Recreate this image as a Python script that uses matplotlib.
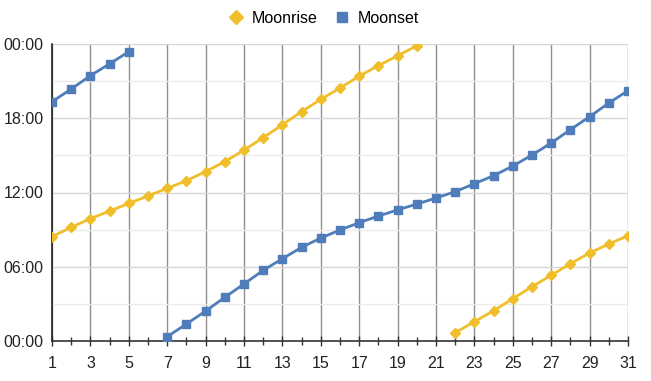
import matplotlib
matplotlib.use("Agg")
import matplotlib.pyplot as plt
from matplotlib.ticker import FixedLocator

plt.rcParams['font.family'] = ['Liberation Sans', 'DejaVu Sans']

rise_days = list(range(1, 21)) + list(range(22, 32))
rise_hours = [8.43, 9.19, 9.89, 10.5, 11.12, 11.72, 12.34, 12.95, 13.69, 14.49,
              15.43, 16.43, 17.48, 18.53, 19.53, 20.44, 21.41, 22.25, 23.05, 23.86,
              0.67, 1.56, 2.45, 3.42, 4.39, 5.31, 6.25, 7.11, 7.84, 8.51]

set_days_a = [1, 2, 3, 4, 5]
set_hours_a = [19.34, 20.36, 21.44, 22.4, 23.38]
set_days_b = list(range(7, 32))
set_hours_b = [0.35, 1.37, 2.42, 3.53, 4.61, 5.71, 6.65, 7.57, 8.32, 8.97,
               9.56, 10.1, 10.59, 11.07, 11.55, 12.07, 12.71, 13.36, 14.14, 15.03,
               16.0, 17.08, 18.13, 19.23, 20.23]

y_ticks = [0, 6, 12, 18, 24]
y_labels = ["00:00", "06:00", "12:00", "18:00", "00:00"]
x_ticks = list(range(1, 32, 2))

gold = "#F1BE2B"
blue = "#4E7DBA"

fig = plt.figure(figsize=(6.51, 3.81), dpi=100)
ax = fig.add_axes([52/651, 1-341/381, 576/651, 297/381])

r1d, r1h = rise_days[:20], rise_hours[:20]
r2d, r2h = rise_days[20:], rise_hours[20:]
ax.plot(r1d, r1h, color=gold, marker='D', markersize=5.5, lw=2, zorder=3, label='Moonrise')
ax.plot(r2d, r2h, color=gold, marker='D', markersize=5.5, lw=2, zorder=3)
ax.plot(set_days_a, set_hours_a, color=blue, marker='s', markersize=5.5, lw=2, zorder=3, label='Moonset')
ax.plot(set_days_b, set_hours_b, color=blue, marker='s', markersize=5.5, lw=2, zorder=3)

ax.set_xlim(1, 31)
ax.set_ylim(0, 24)
ax.set_xticks(x_ticks)
ax.set_xticklabels([str(d) for d in x_ticks])
ax.xaxis.set_minor_locator(FixedLocator(list(range(2, 31, 2))))
ax.set_yticks(y_ticks)
ax.set_yticklabels(y_labels)
ax.yaxis.set_minor_locator(FixedLocator([3, 9, 15, 21]))

ax.grid(axis='x', which='major', color='#8f8f8f', lw=1.0, zorder=1)
ax.grid(axis='y', which='major', color='#d6d6d6', lw=1.0, zorder=1)
ax.grid(axis='y', which='minor', color='#ebebeb', lw=1.0, zorder=1)

for s in ['top', 'right']:
    ax.spines[s].set_visible(False)
ax.spines['left'].set_color('#222222')
ax.spines['bottom'].set_color('#333333')
ax.spines['left'].set_linewidth(1.2)
ax.spines['bottom'].set_linewidth(1.2)

ax.tick_params(axis='x', which='major', direction='inout', length=7, width=1, color='#333333',
               labelsize=11.5, pad=7, labelcolor='#222222')
ax.tick_params(axis='x', which='minor', direction='inout', length=6, width=1, color='#333333')
ax.tick_params(axis='y', which='both', length=0, labelsize=11.5, pad=6, labelcolor='#222222')

leg = fig.legend(loc='upper center', bbox_to_anchor=(0.497, 1.01), ncol=2, frameon=False,
                 fontsize=11.5, handlelength=1.0, handletextpad=0.5, columnspacing=1.0)
for h in leg.legend_handles:
    h.set_linestyle('None')
    h.set_markersize(7.5)

fig.savefig("out.png", dpi=100)
